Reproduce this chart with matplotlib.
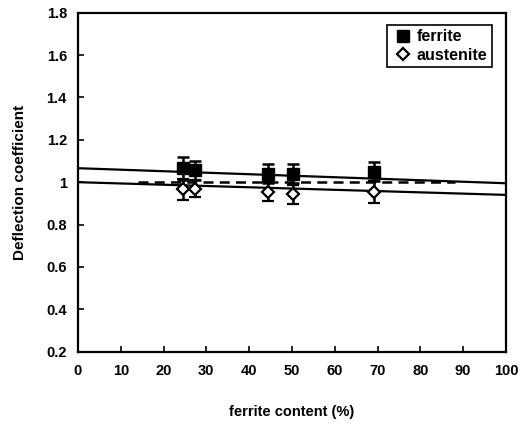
import matplotlib.pyplot as plt
from matplotlib.lines import Line2D
import numpy as np

plt.rcParams['font.family'] = ['Liberation Sans', 'DejaVu Sans']
plt.rcParams['font.weight'] = 'bold'

# measured points
ferrite_x = [24.5, 27.3, 44.5, 50.3, 69.2]
ferrite_y = [1.065, 1.057, 1.04, 1.04, 1.049]
ferrite_err = [0.055, 0.045, 0.045, 0.045, 0.045]
aust_y = [0.966, 0.97, 0.954, 0.942, 0.954]
aust_err = [0.05, 0.04, 0.045, 0.045, 0.05]

# linear fits and reference level
fit_x = [0, 100]
ferrite_fit = [1.066, 0.995]
aust_fit = [1.0, 0.94]
ref_x = [14, 88]
ref_y = [1.0, 1.0]

fig = plt.figure(figsize=(5.2, 4.23), dpi=100)
ax = fig.add_axes([0.15, 0.1686, 0.823, 0.8014])

ax.plot(fit_x, ferrite_fit, color='black', lw=1.6)
ax.plot(fit_x, aust_fit, color='black', lw=1.6)
ax.plot(ref_x, ref_y, color='black', lw=1.8, ls=(0, (4, 2.5)))

ax.errorbar(ferrite_x, ferrite_y, yerr=ferrite_err, fmt='s', color='black',
            ms=8, capsize=4, capthick=1.8, elinewidth=1.8)
ax.errorbar(ferrite_x, aust_y, yerr=aust_err, fmt='D', mfc='white', mec='black',
            mew=1.6, color='black', ms=6, capsize=4, capthick=1.8, elinewidth=1.8)

ax.set_xlim(0, 100)
ax.set_ylim(0.2, 1.8)
ax.set_xticks(np.arange(0, 101, 10))
ax.set_yticks(np.arange(0.2, 1.81, 0.2))
ax.set_yticklabels(['0.2', '0.4', '0.6', '0.8', '1', '1.2', '1.4', '1.6', '1.8'])
ax.tick_params(direction='in', length=4, width=1.2, labelsize=10.5)
ax.tick_params(axis='x', pad=9)
ax.tick_params(axis='y', pad=8)
for s in ax.spines.values():
    s.set_linewidth(1.6)

ax.set_xlabel('ferrite content (%)', fontsize=10.5, fontweight='bold', labelpad=19)
ax.set_ylabel('Deflection coefficient', fontsize=11, fontweight='bold', labelpad=14)

handles = [
    Line2D([], [], ls='none', marker='s', color='black', ms=8),
    Line2D([], [], ls='none', marker='D', mfc='white', mec='black', mew=1.6, ms=6),
]
leg = ax.legend(handles, ['ferrite', 'austenite'], loc='upper right',
                bbox_to_anchor=(0.968, 0.965), fontsize=11.5,
                handlelength=1.4, handletextpad=0.15, borderpad=0.3,
                labelspacing=0.2, borderaxespad=0,
                fancybox=False, edgecolor='black', framealpha=1)
leg.get_frame().set_linewidth(1.2)

fig.savefig('out.png', dpi=100)
